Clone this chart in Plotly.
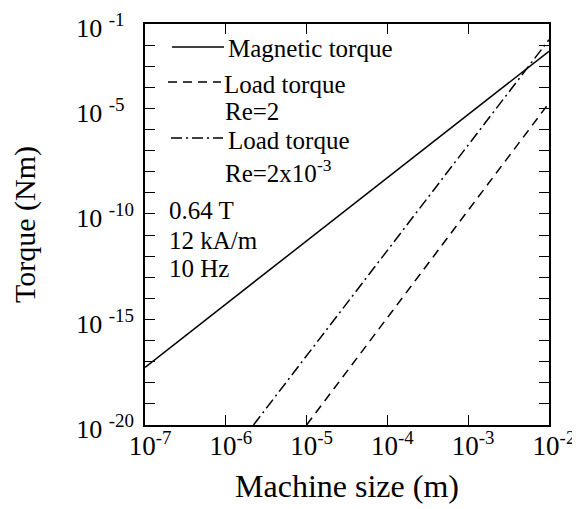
import plotly.graph_objects as go

# ---- data ----
size_magnetic = [1e-7, 1e-2]
torque_magnetic = [5.4e-18, 5.1e-3]

size_load_re2 = [1e-5, 1e-2]
torque_load_re2 = [1e-20, 1.8e-5]

size_load_re2e3 = [2.2e-6, 1e-2]
torque_load_re2e3 = [1e-20, 1.8e-2]

x_tick_exps = [-7, -6, -5, -4, -3, -2]
y_tick_exps = list(range(-20, 0))
y_label_exps = [-1, -5, -10, -15, -20]

FONT = "Liberation Serif"
W, H = 580, 509
L, R, T, B = 137, 541, 16, 417


def px(x):
    return (x - L) / (R - L)


def py(y):
    return 1 - (y - T) / (B - T)


def ylab(e):
    if e not in y_label_exps:
        return ""
    s = str(e)
    pad = "&#8199;" if len(s) == 2 else ""
    return f"10 <sup><span style='font-size:19px'>{s}{pad}</span></sup>"


fig = go.Figure()
fig.add_trace(go.Scatter(x=size_magnetic, y=torque_magnetic, mode="lines",
                         line=dict(color="black", width=1.5), showlegend=False))
fig.add_trace(go.Scatter(x=size_load_re2, y=torque_load_re2, mode="lines",
                         line=dict(color="black", width=1.5, dash="9px,6px"), showlegend=False))
fig.add_trace(go.Scatter(x=size_load_re2e3, y=torque_load_re2e3, mode="lines",
                         line=dict(color="black", width=1.5, dash="11px,4px,2px,4px"), showlegend=False))

# legend samples
samples = [
    (164, 216, 39, "solid"),
    (160, 213, 74, "9px,6px"),
    (163, 215, 130, "11px,4px,2px,4px"),
]
for x0, x1, yy, d in samples:
    fig.add_shape(type="line", xref="paper", yref="paper",
                  x0=px(x0), x1=px(x1), y0=py(yy), y1=py(yy),
                  line=dict(color="black", width=1.5, dash=d))

texts = [
    ("Magnetic torque", 218, 40),
    ("Load torque", 214, 77),
    ("Re=2", 215, 103),
    ("Load torque", 218, 133),
    ("Re=2x10<sup>-3</sup>", 215, 163),
    ("0.64 T", 159, 203),
    ("12 kA/m", 159, 232),
    ("10 Hz", 159, 260),
]
for t, xx, yy in texts:
    fig.add_annotation(text=t, xref="paper", yref="paper", x=px(xx), y=py(yy),
                       xanchor="left", yanchor="middle", showarrow=False,
                       font=dict(family=FONT, size=25, color="black"))

fig.update_layout(
    width=W, height=H, autosize=False,
    margin=dict(l=L, r=W - R, t=T, b=H - B, pad=0, autoexpand=False),
    paper_bgcolor="white", plot_bgcolor="white",
    font=dict(family=FONT, color="black"),
    showlegend=False,
)
fig.update_xaxes(
    type="log", range=[-7.0005, -1.9995], automargin=False,
    tickmode="array",
    tickvals=[10.0 ** e for e in x_tick_exps],
    ticktext=[f"10<sup>{e}</sup>" for e in x_tick_exps],
    ticks="inside", ticklen=10, tickwidth=1.3, tickcolor="black",
    mirror="ticks", showline=True, linecolor="black", linewidth=1.5,
    showgrid=False, zeroline=False,
    ticklabeloverflow="allow", ticklabelshift=5, ticklabelstandoff=-4,
    tickfont=dict(family=FONT, size=27, color="black"),
    title=dict(text="Machine size (m)", font=dict(family=FONT, size=32, color="black"), standoff=14),
)
fig.update_yaxes(
    type="log", range=[-20.001, -0.999], automargin=False,
    tickmode="array",
    tickvals=[10.0 ** e for e in y_tick_exps],
    ticktext=[ylab(e) for e in y_tick_exps],
    ticks="inside", ticklen=10, tickwidth=1.3, tickcolor="black",
    mirror="ticks", showline=True, linecolor="black", linewidth=1.5,
    showgrid=False, zeroline=False,
    ticklabeloverflow="allow", ticklabelstandoff=4, ticklabelshift=4,
    tickfont=dict(family=FONT, size=26, color="black"),
    title=dict(text="Torque (Nm)", font=dict(family=FONT, size=30, color="black"), standoff=32),
)

fig.write_html("out.html")
